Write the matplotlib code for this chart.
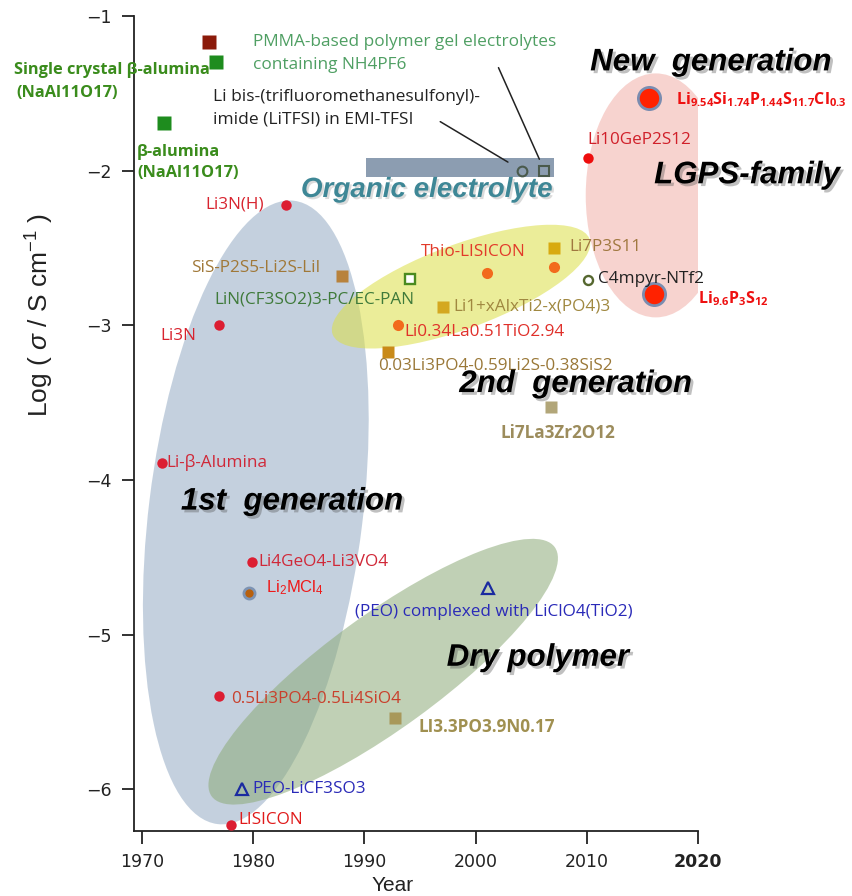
import matplotlib
matplotlib.use("Agg")
import matplotlib.pyplot as plt
import matplotlib.patheffects as pe
from matplotlib.patches import Ellipse
from matplotlib.transforms import Affine2D

# ---- data: year of report and log(conductivity / S cm-1) ----
red_names = ["Li3N(H)", "Li3N", "Li-β-Alumina", "Li4GeO4-Li3VO4",
             "0.5Li3PO4-0.5Li4SiO4", "LISICON", "Li10GeP2S12"]
red_year = [1983.0, 1976.9, 1971.8, 1979.9, 1976.9, 1978.0, 2010.1]
red_logs = [-2.22, -3.00, -3.89, -4.53, -5.40, -6.23, -1.92]

orange_names = ["Thio-LISICON", "", "Li0.34La0.51TiO2.94"]
orange_year = [2001.0, 2007.1, 1993.0]
orange_logs = [-2.66, -2.62, -3.00]

gold_names = ["Li7P3S11", "Li1+xAlxTi2-x(PO4)3",
              "0.03Li3PO4-0.59Li2S-0.38SiS2", "SiS-P2S5-Li2S-LiI"]
gold_year = [2007.1, 1997.1, 1992.1, 1988.0]
gold_logs = [-2.50, -2.88, -3.17, -2.68]

khaki_names = ["Li7La3Zr2O12", "LI3.3PO3.9N0.17"]
khaki_year = [2006.8, 1992.8]
khaki_logs = [-3.53, -5.54]

tri_names = ["(PEO) complexed with LiClO4(TiO2)", "PEO-LiCF3SO3"]
tri_year = [2001.1, 1979.0]
tri_logs = [-4.70, -6.00]

gel_names = ["LiN(CF3SO2)3-PC/EC-PAN", "C4mpyr-NTf2"]
gel_year = [1994.1, 2010.1]
gel_logs = [-2.70, -2.71]

organic_year = [2004.2, 2006.2]   # LiTFSI in EMI-TFSI (circle), PMMA gel (square)
organic_logs = [-2.00, -2.00]
organic_span = [1990.2, 2007.1]
organic_level = -1.98

big_names = [r"$\mathbf{Li_{9.54}Si_{1.74}P_{1.44}S_{11.7}Cl_{0.3}}$",
             r"$\mathbf{Li_{9.6}P_{3}S_{12}}$"]
big_year = [2015.6, 2016.0]
big_logs = [-1.53, -2.80]

halide_year = [1979.6]
halide_logs = [-4.73]

na_year = [1976.05, 1976.65, 1972.0]
na_logs = [-1.17, -1.30, -1.69]

# ---- layout ----
plt.rcParams["font.family"] = ["Open Sans", "DejaVu Sans"]
plt.rcParams["mathtext.fontset"] = "custom"
plt.rcParams["mathtext.rm"] = "Liberation Sans"
plt.rcParams["mathtext.it"] = "Liberation Sans:italic"
plt.rcParams["mathtext.bf"] = "Open Sans:bold"

fig = plt.figure(figsize=(8.52, 8.96), dpi=100)
ax = fig.add_axes([134 / 852, 1 - 831 / 896, 564 / 852, 815 / 896])
xmin, xmax, ymin, ymax = 1969.3, 2020.0, -6.27, -1.0
ax.set_xlim(xmin, xmax)
ax.set_ylim(ymin, ymax)
sx = 564 / (xmax - xmin)
sy = 815 / (ymax - ymin)
pix = Affine2D().scale(1 / sx, 1 / sy) + ax.transData

# shaded regions: centre (year, log), width/height in px, angle, colour
regions = [
    ((1980.25, -4.21), 214, 628, -7, "#8aa3bf", 0.5),
    ((1998.7, -2.75), 274, 84, 20.4, "#dcdf45", 0.55),
    ((2016.2, -2.16), 140, 244, 0, "#f0a8a0", 0.5),
    ((1991.7, -5.24), 424, 114, 36, "#8dab78", 0.55),
]
for (cx, cy), w, h, ang, col, al in regions:
    ax.add_patch(Ellipse((cx * sx, cy * sy), w, h, angle=ang, transform=pix,
                         facecolor=col, alpha=al, edgecolor="none", zorder=1))

ax.barh(organic_level, organic_span[1] - organic_span[0], left=organic_span[0],
        height=0.125, color="#8093a9", alpha=0.9, zorder=2)

# markers
ax.plot(red_year[:-1], red_logs[:-1], "o", ms=7.5, color="#dc1e32", mec="none", zorder=5)
ax.plot(red_year[-1:], red_logs[-1:], "o", ms=7.5, color="#ee0d0d", mec="none", zorder=5)
ax.plot(orange_year, orange_logs, "o", ms=8, color="#f26a1d", mec="none", zorder=5)
gold_cols = ["#d8aa10", "#d4a820", "#c98a18", "#b8823c"]
for x, y, c in zip(gold_year, gold_logs, gold_cols):
    ax.plot(x, y, "s", ms=8, color=c, mec="none", zorder=5)
for x, y, c in zip(khaki_year, khaki_logs, ["#b2a679", "#a8985a"]):
    ax.plot(x, y, "s", ms=9, color=c, mec="none", zorder=5)
ax.plot(tri_year, tri_logs, "^", ms=8, mfc="none", mec="#1a2aa0", mew=1.6, zorder=5)
ax.plot(gel_year[0], gel_logs[0], "s", ms=7, mfc="white", mec="#4a8a20", mew=1.7, zorder=5)
ax.plot(gel_year[1], gel_logs[1], "o", ms=6.5, mfc="white", mec="#55672f", mew=1.7, zorder=5)
ax.plot(organic_year[0], organic_logs[0], "o", ms=7, mfc="none", mec="#4a5a4c", mew=1.5, zorder=5)
ax.plot(organic_year[1], organic_logs[1], "s", ms=7, mfc="none", mec="#4a5a4c", mew=1.5, zorder=5)
ax.plot(big_year, big_logs, "o", ms=16, color="#ff2200", mec="#7a8cb0", mew=2, zorder=5)
ax.plot(halide_year, halide_logs, "o", ms=8, color="#b8600e", mec="#7d93b3", mew=2, zorder=5)
for x, y, c in zip(na_year, na_logs, ["#8b1a0a", "#1e8c1e", "#1e8c1e"]):
    ax.plot(x, y, "s", ms=9.5, color=c, mec="none", zorder=5)

# labels: offsets in pixels from the marker (dx, dy, ha, colour)
offsets = {
    "Li3N(H)": (-22, 0, "right", "#d8242f"),
    "Li3N": (-22, -11, "right", "#d8242f"),
    "Li-β-Alumina": (5, 0, "left", "#d02838"),
    "Li4GeO4-Li3VO4": (6, 0, "left", "#d02838"),
    "0.5Li3PO4-0.5Li4SiO4": (13, -3, "left", "#c9402c"),
    "LISICON": (8, 5, "left", "#e01a1a"),
    "Li10GeP2S12": (0, 18, "left", "#d0202a"),
    "Thio-LISICON": (-13, 21, "center", "#e23a2a"),
    "Li0.34La0.51TiO2.94": (7, -7, "left", "#e0302a"),
    "Li7P3S11": (15, 1, "left", "#a07840"),
    "Li1+xAlxTi2-x(PO4)3": (10, 0, "left", "#a08840"),
    "0.03Li3PO4-0.59Li2S-0.38SiS2": (-10, -14, "left", "#9a7838"),
    "SiS-P2S5-Li2S-LiI": (-22, 8, "right", "#a07838"),
    "Li7La3Zr2O12": (7, -26, "center", "#9c8c5c"),
    "LI3.3PO3.9N0.17": (23, -9, "left", "#a09050"),
    "(PEO) complexed with LiClO4(TiO2)": (6, -24, "center", "#2a2ab8"),
    "PEO-LiCF3SO3": (10, 0, "left", "#2a2ab8"),
    "LiN(CF3SO2)3-PC/EC-PAN": (4, -21, "right", "#3f7a3a"),
    "C4mpyr-NTf2": (10, 1, "left", "#222222"),
}
bold_labels = {"Li7La3Zr2O12", "LI3.3PO3.9N0.17"}
fs = 12.3


def label(name, x, y):
    if not name:
        return
    dx, dy, ha, col = offsets[name]
    ax.annotate(name, (x, y), xytext=(dx, dy), textcoords="offset pixels",
                ha=ha, va="center", color=col, fontsize=fs,
                fontweight="bold" if name in bold_labels else "normal", zorder=6)


for names, xs, ys in [(red_names, red_year, red_logs),
                      (orange_names, orange_year, orange_logs),
                      (gold_names, gold_year, gold_logs),
                      (khaki_names, khaki_year, khaki_logs),
                      (tri_names, tri_year, tri_logs),
                      (gel_names, gel_year, gel_logs)]:
    for n, x, y in zip(names, xs, ys):
        label(n, x, y)

ax.annotate(big_names[0], (big_year[0], big_logs[0]), xytext=(27, -2),
            textcoords="offset pixels", va="center", color="#ee1010", fontsize=11.5)
ax.annotate(big_names[1], (big_year[1], big_logs[1]), xytext=(44, -4),
            textcoords="offset pixels", va="center", color="#ee1010", fontsize=11.5)
ax.annotate(r"$\mathrm{Li_2MCl_4}$", (halide_year[0], halide_logs[0]), xytext=(17, 5),
            textcoords="offset pixels", va="center", color="#ee1a1a", fontsize=12)

green = "#3a8c1c"
ax.annotate("Single crystal β-alumina", (na_year[1], na_logs[1]), xytext=(-6, -8),
            textcoords="offset pixels", ha="right", va="center", color=green,
            fontsize=11.8, fontweight="bold")
ax.annotate("(NaAl11O17)", (na_year[1], na_logs[1]), xytext=(-199, -31),
            textcoords="offset pixels", ha="left", va="center", color=green,
            fontsize=11.8, fontweight="bold")
ax.annotate("β-alumina", (na_year[2], na_logs[2]), xytext=(-27, -29),
            textcoords="offset pixels", ha="left", va="center", color=green,
            fontsize=11.8, fontweight="bold")
ax.annotate("(NaAl11O17)", (na_year[2], na_logs[2]), xytext=(-27, -50),
            textcoords="offset pixels", ha="left", va="center", color=green,
            fontsize=11.8, fontweight="bold")

for line, dy in [("PMMA-based polymer gel electrolytes", 129), ("containing NH4PF6", 106)]:
    ax.annotate(line, (organic_year[1], organic_logs[1]), xytext=(-291, dy),
                textcoords="offset pixels", ha="left", va="center",
                color="#4f9f63", fontsize=12.4)
for line, dy in [("Li bis-(trifluoromethanesulfonyl)-", 74), ("imide (LiTFSI) in EMI-TFSI", 51)]:
    ax.annotate(line, (organic_year[0], organic_logs[0]), xytext=(-309, dy),
                textcoords="offset pixels", ha="left", va="center",
                color="#222222", fontsize=12.5)
ax.annotate("", (organic_year[0], organic_logs[0]), xytext=(-82, 49),
            textcoords="offset pixels",
            arrowprops=dict(arrowstyle="-", color="#222222", lw=1.1, shrinkA=0, shrinkB=12))
ax.annotate("", (organic_year[1], organic_logs[1]), xytext=(-46, 103),
            textcoords="offset pixels",
            arrowprops=dict(arrowstyle="-", color="#222222", lw=1.1, shrinkA=0, shrinkB=9))

# group titles
shadow = [pe.withSimplePatchShadow(offset=(2, -2), shadow_rgbFace="0.3", alpha=0.35)]
titles = [("New  generation", 2021.15, -1.30), ("LGPS-family", 2024.4, -2.03),
          ("2nd  generation", 2009.0, -3.38), ("1st  generation", 1983.5, -4.14),
          ("Dry polymer", 2005.6, -5.15)]
for t, x, y in titles:
    ax.text(x, y, t, ha="center", va="center", fontsize=22.5, family="Liberation Sans",
            fontweight="bold", fontstyle="italic", color="black",
            path_effects=shadow, zorder=7)
ax.text(1995.6, -2.125, "Organic electrolyte", ha="center", va="center", fontsize=20,
        family="Liberation Sans", fontweight="bold", fontstyle="italic", color="#3e8796",
        path_effects=[pe.withSimplePatchShadow(offset=(1.5, -1.5), shadow_rgbFace="0.6",
                                               alpha=0.35)], zorder=7)

# axes styling
for s in ["top", "right"]:
    ax.spines[s].set_visible(False)
for s in ["left", "bottom"]:
    ax.spines[s].set_linewidth(1.3)
    ax.spines[s].set_color("#222222")
ax.set_xticks([1970, 1980, 1990, 2000, 2010, 2020])
ax.set_yticks([-1, -2, -3, -4, -5, -6])
ax.tick_params(direction="out", length=9, width=1.3, color="#222222",
               labelsize=12.5, labelcolor="#222222", pad=7)
for t in ax.get_xticklabels() + ax.get_yticklabels():
    t.set_family("DejaVu Sans")
ax.get_xticklabels()[-1].set_fontweight("bold")
ax.set_xlabel("Year", fontsize=15, family="Liberation Sans", color="#222222")
ax.set_ylabel(r"Log ( $\sigma$ / S cm$^{-1}$ )", fontsize=19, family="Liberation Sans",
              color="#222222")
ax.xaxis.set_label_coords(0.459, -0.055)
ax.yaxis.set_label_coords(-0.138, 0.633)

fig.savefig("out.png", dpi=100)
